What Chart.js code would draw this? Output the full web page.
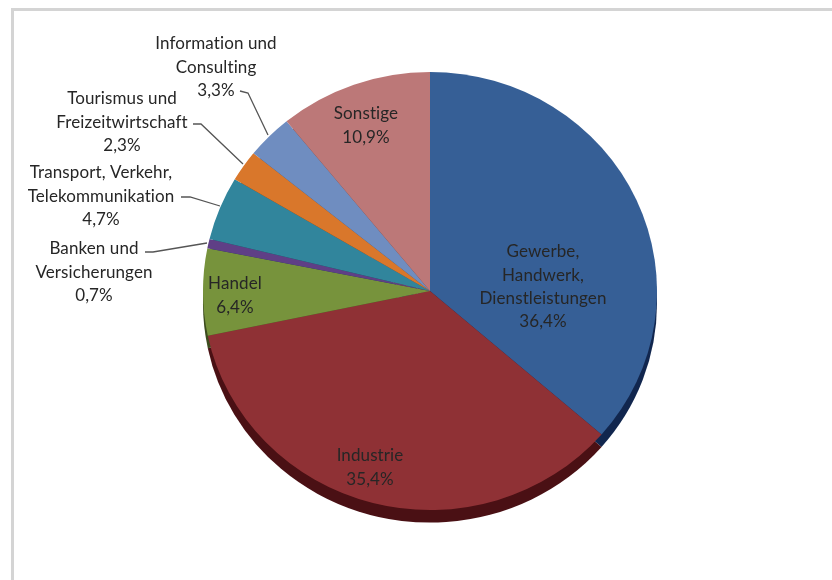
<!DOCTYPE html>
<html>
<head>
<meta charset="utf-8">
<style>
html,body{margin:0;padding:0;background:#fff;width:832px;height:580px;overflow:hidden}
#wrap{position:relative;width:832px;height:580px}
#frame{position:absolute;left:11px;top:8px;width:840px;height:600px;border:3px solid #d4d4d4;box-sizing:border-box}
canvas{position:absolute;left:0;top:0}
</style>
<script src="https://cdn.jsdelivr.net/npm/chart.js@4"></script>
</head>
<body>
<div id="wrap"><div id="frame"></div><canvas id="c" width="832" height="580"></canvas></div>
<script>
const categories = ['Gewerbe, Handwerk, Dienstleistungen','Industrie','Handel','Banken und Versicherungen','Transport, Verkehr, Telekommunikation','Tourismus und Freizeitwirtschaft','Information und Consulting','Sonstige'];
const values = [36.4,35.4,6.4,0.7,4.7,2.3,3.3,10.9];
const valueLabels = ['36,4%','35,4%','6,4%','0,7%','4,7%','2,3%','3,3%','10,9%'];
const labelLines = [['Gewerbe,','Handwerk,','Dienstleistungen'],['Industrie'],['Handel'],['Banken und','Versicherungen'],['Transport, Verkehr,','Telekommunikation'],['Tourismus und','Freizeitwirtschaft'],['Information und','Consulting'],['Sonstige']];
const sliceColors = ['#365F96','#8F3135','#77933C','#5F3F86','#31859C','#D9772B','#6F8DC0','#BC7878'];
const sideColors = ['#11264E','#4A1014','#3C4C1E','#2F2043','#18434E','#6D3C16','#384760','#5E3C3C'];

const labelPos = [[543,252],[370,456],[235,284],[94,249],[101,173],[122,99],[216,44],[366,114]];
const leaders = [null,null,null,[[145,252],[153,252],[207,243]],[[181,197],[190,197],[220,206]],[[193,124],[201,124],[243,164]],[[240,91],[248,93],[268,135]],null];
const squash = 0.965, depth = 13, lineGap = 23.3;

const tiltPlugin = {
  id:'tilt',
  beforeDatasetDraw(chart){
    const ctx = chart.ctx, arcs = chart.getDatasetMeta(0).data;
    const cx = arcs[0].x, cy = arcs[0].y;
    ctx.save();
    ctx.translate(cx,cy); ctx.scale(1,squash); ctx.translate(-cx,-cy);
    ctx.save();
    ctx.translate(0,depth);
    arcs.forEach((a,i)=>{
      ctx.beginPath(); ctx.moveTo(a.x,a.y);
      ctx.arc(a.x,a.y,a.outerRadius,a.startAngle,a.endAngle);
      ctx.closePath(); ctx.fillStyle = sideColors[i]; ctx.fill();
    });
    ctx.restore();
  },
  afterDatasetDraw(chart){ chart.ctx.restore(); }
};
const labelPlugin = {
  id:'sliceLabels',
  afterDraw(chart){
    const ctx = chart.ctx;
    ctx.save();
    ctx.strokeStyle='#555'; ctx.lineWidth=1.3;
    leaders.forEach(l=>{ if(!l) return;
      ctx.beginPath(); l.forEach((p,i)=> i?ctx.lineTo(p[0],p[1]):ctx.moveTo(p[0],p[1])); ctx.stroke();
    });
    ctx.font='17px Lato'; ctx.letterSpacing='0.1px'; ctx.fillStyle='#262626'; ctx.textAlign='center'; ctx.textBaseline='middle';
    labelLines.forEach((lines,i)=>{
      const all = lines.concat(valueLabels[i]);
      all.forEach((t,j)=> ctx.fillText(t,labelPos[i][0],labelPos[i][1]+j*lineGap));
    });
    ctx.restore();
  }
};
new Chart(document.getElementById('c'),{
  type:'pie',
  data:{labels:categories,datasets:[{data:values,backgroundColor:sliceColors,borderWidth:0}]},
  options:{
    responsive:false,animation:false,
    layout:{padding:{left:203,right:175,top:64,bottom:62}},
    plugins:{legend:{display:false},tooltip:{enabled:false}}
  },
  plugins:[tiltPlugin,labelPlugin]
});
</script>
</body>
</html>
